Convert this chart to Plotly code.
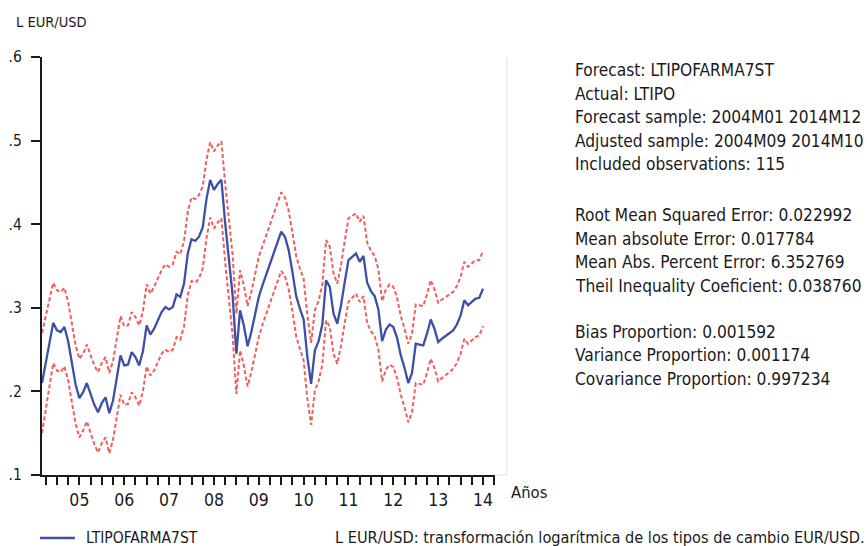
import plotly.graph_objects as go

# Monthly observations starting 2004M09 (index 0)
forecast = [
    0.210, 0.234, 0.259, 0.282, 0.273, 0.271, 0.277, 0.260, 0.234, 0.208,
    0.192, 0.199, 0.210, 0.196, 0.184, 0.175, 0.186, 0.193, 0.174, 0.189,
    0.215, 0.243, 0.231, 0.232, 0.247, 0.241, 0.231, 0.248, 0.279, 0.268,
    0.275, 0.285, 0.295, 0.301, 0.298, 0.301, 0.316, 0.313, 0.329, 0.365,
    0.382, 0.380, 0.385, 0.396, 0.430, 0.453, 0.441, 0.448, 0.453, 0.402,
    0.360, 0.315, 0.245, 0.297, 0.279, 0.254, 0.271, 0.292, 0.313, 0.327,
    0.340, 0.352, 0.364, 0.377, 0.391, 0.385, 0.369, 0.343, 0.314, 0.299,
    0.286, 0.241, 0.209, 0.249, 0.260, 0.280, 0.333, 0.325, 0.293, 0.281,
    0.303, 0.331, 0.357, 0.361, 0.365, 0.355, 0.362, 0.330, 0.320, 0.314,
    0.298, 0.260, 0.274, 0.280, 0.277, 0.264, 0.243, 0.228, 0.210, 0.222,
    0.257, 0.256, 0.255, 0.269, 0.286, 0.275, 0.259, 0.263, 0.266, 0.270,
    0.273, 0.280, 0.291, 0.309, 0.303, 0.307, 0.311, 0.312, 0.323,
]
# +/- 2 S.E. half-width of the forecast band
band = [
    0.060, 0.055, 0.050, 0.048, 0.048, 0.048, 0.047, 0.047, 0.047, 0.047,
    0.047, 0.046, 0.046, 0.047, 0.047, 0.048, 0.048, 0.048, 0.048, 0.047,
    0.047, 0.047, 0.047, 0.047, 0.048, 0.048, 0.048, 0.048, 0.049, 0.049,
    0.050, 0.050, 0.050, 0.051, 0.051, 0.051, 0.051, 0.051, 0.051, 0.050,
    0.050, 0.050, 0.050, 0.049, 0.047, 0.045, 0.046, 0.046, 0.046, 0.047,
    0.047, 0.048, 0.048, 0.048, 0.048, 0.048, 0.048, 0.048, 0.048, 0.047,
    0.047, 0.047, 0.047, 0.047, 0.047, 0.047, 0.047, 0.047, 0.048, 0.048,
    0.049, 0.050, 0.049, 0.048, 0.048, 0.048, 0.048, 0.048, 0.048, 0.048,
    0.048, 0.049, 0.050, 0.049, 0.048, 0.048, 0.048, 0.048, 0.048, 0.048,
    0.048, 0.048, 0.048, 0.048, 0.048, 0.048, 0.047, 0.047, 0.047, 0.047,
    0.047, 0.047, 0.047, 0.047, 0.047, 0.047, 0.047, 0.047, 0.047, 0.047,
    0.046, 0.046, 0.046, 0.046, 0.046, 0.046, 0.046, 0.045, 0.045,
]
months = list(range(len(forecast)))
upper = [f + b for f, b in zip(forecast, band)]
lower = [f - b for f, b in zip(forecast, band)]

year_labels = ["05", "06", "07", "08", "09", "10", "11", "12", "13", "14"]
year_pos = [10 + 12 * i for i in range(len(year_labels))]      # July of each year
quarter_pos = [1 + 3 * i for i in range(41)]                   # Oct/Jan/Apr/Jul
y_ticks = [0.1, 0.2, 0.3, 0.4, 0.5, 0.6]
y_ticktext = [".1", ".2", ".3", ".4", ".5", ".6"]

stats_lines = [
    "Forecast: LTIPOFARMA7ST",
    "Actual: LTIPO",
    "Forecast sample: 2004M01 2014M12",
    "Adjusted sample: 2004M09 2014M10",
    "Included observations: 115",
    "Root Mean Squared Error: 0.022992",
    "Mean absolute Error: 0.017784",
    "Mean Abs. Percent Error: 6.352769",
    "Theil Inequality Coeficient: 0.038760",
    "Bias Proportion: 0.001592",
    "Variance Proportion: 0.001174",
    "Covariance Proportion: 0.997234",
]
stats_y_px = [70, 93.5, 117, 140.5, 164, 215, 238.5, 262, 285.5, 331.5, 355, 378.5]
series_name = "LTIPOFARMA7ST"

FONT = "DejaVu Sans Condensed, Liberation Sans Narrow, sans-serif"
BLUE = "#3d4fa6"
RED = "#f25c5c"

L, R, T, B = 42, 495, 57, 475
W, H = R - L, B - T
def px(xp):
    return (xp - L) / W
def py(yp):
    return (B - yp) / H

fig = go.Figure()
fig.add_trace(go.Scatter(x=months, y=upper, mode="lines", showlegend=False,
                         line=dict(color=RED, width=2, dash="4px,2.5px")))
fig.add_trace(go.Scatter(x=months, y=lower, mode="lines", showlegend=False,
                         line=dict(color=RED, width=2, dash="4px,2.5px")))
fig.add_trace(go.Scatter(x=months, y=forecast, mode="lines", name=series_name,
                         showlegend=False, line=dict(color=BLUE, width=2.3)))

annotations = [
    dict(text="L EUR/USD", x=px(14), y=py(22), xanchor="left", yanchor="middle",
         font=dict(size=14.5)),
    dict(text="Años", x=px(509), y=py(492), xanchor="left", yanchor="middle",
         font=dict(size=16.5)),
    dict(text="L EUR/USD: transformación logarítmica de los tipos de cambio EUR/USD.",
         x=px(333), y=py(537), xanchor="left", yanchor="middle", font=dict(size=16.2)),
    dict(text=series_name, x=px(84), y=py(538), xanchor="left", yanchor="middle",
         font=dict(size=15.5)),
]
for t, yy in zip(stats_lines, stats_y_px):
    annotations.append(dict(text=t, x=px(573), y=py(yy), xanchor="left",
                            yanchor="middle", font=dict(size=17.2)))
for a in annotations:
    a.update(xref="paper", yref="paper", showarrow=False)
    a["font"]["color"] = "#1a1a1a"
    a["font"]["family"] = FONT

fig.update_layout(
    width=867, height=546,
    margin=dict(l=L, r=867 - R, t=T, b=546 - B, autoexpand=False),
    paper_bgcolor="white", plot_bgcolor="white",
    font=dict(family=FONT, size=15, color="#1a1a1a"),
    annotations=annotations,
    shapes=[
        dict(type="line", xref="paper", yref="paper", x0=px(507), x1=px(507),
             y0=0, y1=1, line=dict(color="#e8e8e8", width=1.5)),
        dict(type="line", xref="paper", yref="paper", x0=1, x1=px(507),
             y0=0, y1=0, line=dict(color="#e8e8e8", width=1.5)),
        # legend key for the forecast series
        dict(type="line", xref="paper", yref="paper", x0=px(40), x1=px(75),
             y0=py(538), y1=py(538), line=dict(color=BLUE, width=2.3)),
    ],
    showlegend=False,
    xaxis=dict(
        range=[0, 121.2], showgrid=False, zeroline=False,
        showline=True, linecolor="#1a1a1a", linewidth=2,
        tickmode="array", tickvals=year_pos, ticktext=year_labels,
        ticks="outside", ticklen=8, tickwidth=2, tickcolor="#1a1a1a",
        minor=dict(tickmode="array", tickvals=quarter_pos, ticks="outside",
                   ticklen=8, tickwidth=2, tickcolor="#1a1a1a", showgrid=False),
        tickfont=dict(size=17.5),
    ),
    yaxis=dict(
        range=[0.1, 0.6], showgrid=False, zeroline=False,
        showline=True, linecolor="#1a1a1a", linewidth=2,
        tickmode="array", tickvals=y_ticks, ticktext=y_ticktext,
        ticks="outside", ticklen=9, tickwidth=2, tickcolor="#1a1a1a",
        tickfont=dict(size=15.5), ticklabelstandoff=6,
    ),
)

fig.write_html("out.html", config={"displayModeBar": False})
# remove the browser's default page margin so the figure sits at the top-left corner
with open("out.html", encoding="utf-8") as fh:
    html = fh.read()
html = html.replace("<head>", "<head><style>html,body{margin:0;padding:0;overflow:hidden;}</style>", 1)
with open("out.html", "w", encoding="utf-8") as fh:
    fh.write(html)
